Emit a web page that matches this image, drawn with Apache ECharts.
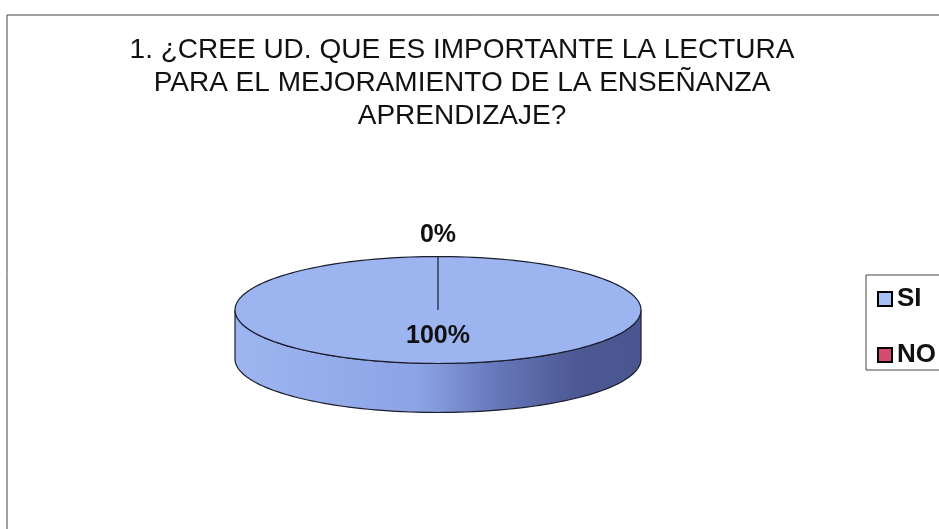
<!DOCTYPE html>
<html>
<head>
<meta charset="utf-8">
<title>Lectura</title>
<script src="https://cdn.jsdelivr.net/npm/echarts@6/dist/echarts.min.js"></script>
<style>
  html, body { margin: 0; padding: 0; background: #fff; }
  #chart { width: 939px; height: 529px; }
</style>
</head>
<body>
<div id="chart"></div>
<script>
// datos de la encuesta (porcentajes)
var categories = ['SI', 'NO'];
var values = [100, 0];
var sliceColors = ['#a6bff4', '#d44a70'];
var titleText = '1. ¿CREE UD. QUE ES IMPORTANTE LA LECTURA\nPARA EL MEJORAMIENTO DE LA ENSEÑANZA\nAPRENDIZAJE?';

// geometria del pastel "3D"
var pie = { cx: 438, cy: 310, rx: 203, ry: 53.5, depth: 49 };
var total = values.reduce(function (a, b) { return a + b; }, 0);

function pt(deg, off) {
  var r = deg * Math.PI / 180;
  return [pie.cx + pie.rx * Math.sin(r), pie.cy + off - pie.ry * Math.cos(r)];
}

function arc(a0, a1, off) {
  var pts = [];
  var n = Math.max(2, Math.ceil(Math.abs(a1 - a0) / 2));
  for (var k = 0; k <= n; k++) {
    pts.push(pt(a0 + (a1 - a0) * k / n, off));
  }
  return pts;
}

function renderSlice(params, api) {
  var i = params.seriesIndex;
  var before = 0;
  for (var j = 0; j < i; j++) before += values[j];
  var v = api.value(0);
  var start = before / total * 360;
  var end = start + v / total * 360;
  var children = [];

  // cara lateral visible (mitad frontal)
  var s = Math.max(start, 90), e = Math.min(end, 270);
  if (v > 0 && e > s) {
    var side = arc(s, e, 0).concat(arc(e, s, pie.depth));
    children.push({
      type: 'polygon',
      shape: { points: side },
      style: {
        fill: new echarts.graphic.LinearGradient(0, 0, 1, 0, [
          { offset: 0, color: '#9db6f1' },
          { offset: 0.45, color: '#8ca4e4' },
          { offset: 0.66, color: '#6474b6' },
          { offset: 0.84, color: '#4c5993' },
          { offset: 1, color: '#4a5690' }
        ]),
        stroke: '#1b1d2c',
        lineWidth: 1.2
      }
    });
  }

  // cara superior
  if (v > 0) {
    var top = [[pie.cx, pie.cy]].concat(arc(start, end, 0));
    children.push({
      type: 'polygon',
      shape: { points: top },
      style: { fill: '#9cb4ef', stroke: '#1b1d2c', lineWidth: 1.2 }
    });
  }

  // etiqueta de porcentaje
  var pct = Math.round(v / total * 100);
  var mid = (start + end) / 2 * Math.PI / 180;
  var lx, ly;
  if (pct < 5) {
    lx = pie.cx + (pie.rx + 22) * Math.sin(mid);
    ly = pie.cy - (pie.ry + 21) * Math.cos(mid);
  } else {
    lx = pie.cx + 0.5 * pie.rx * Math.sin(mid);
    ly = pie.cy - 0.48 * pie.ry * Math.cos(mid);
  }
  children.push({
    type: 'text',
    z2: 10,
    style: {
      text: pct + '%',
      x: lx,
      y: ly,
      align: 'center',
      verticalAlign: 'middle',
      font: 'bold 25px "Liberation Sans", Arial, sans-serif',
      fill: '#111'
    }
  });

  return { type: 'group', children: children };
}

var chart = echarts.init(document.getElementById('chart'));
chart.setOption({
  backgroundColor: '#fff',
  animation: false,
  title: {
    text: titleText,
    left: 457,
    top: 29,
    textAlign: 'center',
    textStyle: {
      fontFamily: 'Liberation Sans',
      fontSize: 28,
      fontWeight: 'normal',
      color: '#111',
      lineHeight: 33
    }
  },
  legend: {
    orient: 'vertical',
    left: 866,
    top: 275,
    padding: [11, 40, 2, 11],
    itemGap: 30,
    itemWidth: 14,
    itemHeight: 14,
    icon: 'rect',
    borderColor: '#444',
    borderWidth: 1,
    itemStyle: { borderColor: '#000', borderWidth: 2 },
    textStyle: {
      fontFamily: 'Liberation Sans',
      fontSize: 26,
      fontWeight: 'bold',
      color: '#111'
    },
    data: categories
  },
  graphic: [{
    type: 'rect',
    shape: { x: 7, y: 15, width: 1000, height: 600 },
    style: { fill: 'none', stroke: '#444', lineWidth: 1 },
    silent: true
  }],
  series: categories.map(function (name, i) {
    return {
      name: name,
      type: 'custom',
      coordinateSystem: 'none',
      itemStyle: { color: sliceColors[i] },
      renderItem: renderSlice,
      data: [values[i]]
    };
  })
});
</script>
</body>
</html>
